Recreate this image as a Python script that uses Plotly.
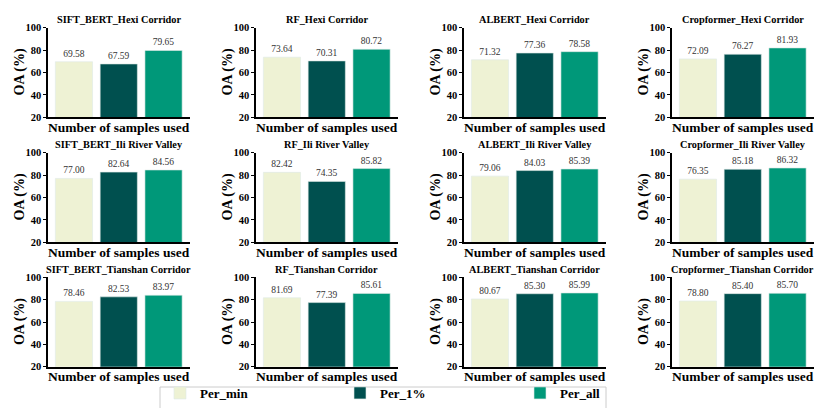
import plotly.graph_objects as go

W, H = 819, 408

models = ["SIFT_BERT", "RF", "ALBERT", "Cropformer"]
regions = ["Hexi Corridor", "Ili River Valley", "Tianshan Corridor"]
series_names = ["Per_min", "Per_1%", "Per_all"]
series_colors = ["#EEF2D4", "#00504F", "#009879"]

# values[region][model] = [Per_min, Per_1%, Per_all]
hexi = {
    "SIFT_BERT": [69.58, 67.59, 79.65],
    "RF": [73.64, 70.31, 80.72],
    "ALBERT": [71.32, 77.36, 78.58],
    "Cropformer": [72.09, 76.27, 81.93],
}
ili = {
    "SIFT_BERT": [77.00, 82.64, 84.56],
    "RF": [82.42, 74.35, 85.82],
    "ALBERT": [79.06, 84.03, 85.39],
    "Cropformer": [76.35, 85.18, 86.32],
}
tianshan = {
    "SIFT_BERT": [78.46, 82.53, 83.97],
    "RF": [81.69, 77.39, 85.61],
    "ALBERT": [80.67, 85.30, 85.99],
    "Cropformer": [78.80, 85.40, 85.70],
}
data_by_region = [hexi, ili, tianshan]

y_ticks = [20, 40, 60, 80, 100]
y_range = [20, 100]

FONT = "Liberation Serif"

# layout geometry in pixels
col_left = [48, 256, 464, 672]
plot_w = 141.5
row_top = [27.7, 152.7, 277.3]
plot_h = 89.5

fig = go.Figure()
annotations = []

idx = 0
for r, region in enumerate(regions):
    for c, model in enumerate(models):
        idx += 1
        xa = "x" if idx == 1 else f"x{idx}"
        ya = "y" if idx == 1 else f"y{idx}"
        vals = data_by_region[r][model]
        for s, name in enumerate(series_names):
            fig.add_trace(go.Bar(
                x=[name], y=[vals[s]],
                name=name, legendgroup=name, showlegend=(idx == 1),
                marker=dict(color=series_colors[s], line=dict(color="#DDEAE6", width=0.6)),
                width=0.83,
                text=[f"{vals[s]:.2f}"], textposition="outside",
                textfont=dict(family=FONT, size=9.5, color="#333333"),
                cliponaxis=False,
                xaxis=xa, yaxis=ya,
            ))
        x0 = col_left[c] / W
        x1 = (col_left[c] + plot_w) / W
        y1 = 1 - row_top[r] / H
        y0 = 1 - (row_top[r] + plot_h) / H
        axkey_x = "xaxis" if idx == 1 else f"xaxis{idx}"
        axkey_y = "yaxis" if idx == 1 else f"yaxis{idx}"
        fig.layout[axkey_x] = dict(
            domain=[x0, x1], anchor=ya, type="category",
            categoryorder="array", categoryarray=series_names,
            range=[-0.58, 2.58], showticklabels=False, ticks="",
            showline=True, linecolor="black", linewidth=1.5,
            showgrid=False, zeroline=False, fixedrange=True,
        )
        fig.layout[axkey_y] = dict(
            domain=[y0, y1], anchor=xa, range=y_range,
            tickvals=y_ticks, ticks="outside", ticklen=3, tickwidth=1,
            tickcolor="black",
            tickfont=dict(family=FONT, size=10.5, color="black", weight="bold"),
            showline=True, linecolor="black", linewidth=1.5,
            showgrid=False, zeroline=False, automargin=False, fixedrange=True,
        )
        xc = (x0 + x1) / 2
        # subplot title
        annotations.append(dict(
            text=f"{model}_{region}", x=xc, y=y1, xref="paper", yref="paper",
            xanchor="center", yanchor="middle", yshift=8, showarrow=False,
            font=dict(family=FONT, size=10.3, color="black", weight="bold"),
        ))
        # x title
        annotations.append(dict(
            text="Number of samples used", x=xc, y=y0, xref="paper", yref="paper",
            xanchor="center", yanchor="middle", yshift=-10, showarrow=False,
            font=dict(family=FONT, size=13.5, color="black", weight="bold"),
        ))
        # y title
        annotations.append(dict(
            text="OA (%)", x=x0, y=(y0 + y1) / 2, xref="paper", yref="paper",
            xanchor="center", yanchor="middle", xshift=-28, textangle=-90,
            showarrow=False,
            font=dict(family=FONT, size=14, color="black", weight="bold"),
        ))

# legend frame (decoration; open at the bottom where the reference is cut)
fx0, fx1, fy = 160 / W, 606 / W, 1 - 387 / H
legend_frame = dict(
    type="path", xref="paper", yref="paper",
    path=f"M {fx0},0 L {fx0},{fy} L {fx1},{fy} L {fx1},0",
    line=dict(color="#CCCCCC", width=1), layer="below",
)

fig.update_layout(
    width=W, height=H,
    margin=dict(l=0, r=0, t=0, b=0),
    paper_bgcolor="white", plot_bgcolor="white",
    barmode="overlay",
    annotations=annotations,
    shapes=[legend_frame],
    showlegend=True,
    legend=dict(
        orientation="h", x=160 / W, y=0, xanchor="left", yanchor="bottom",
        entrywidth=135, borderwidth=0,
        font=dict(family=FONT, size=13, color="black", weight="bold"),
        bgcolor="rgba(0,0,0,0)",
    ),
)

fig.write_html(
    "out.html",
    config={"displayModeBar": False},
    post_script="document.body.style.margin='0';document.documentElement.style.overflow='hidden';",
)
